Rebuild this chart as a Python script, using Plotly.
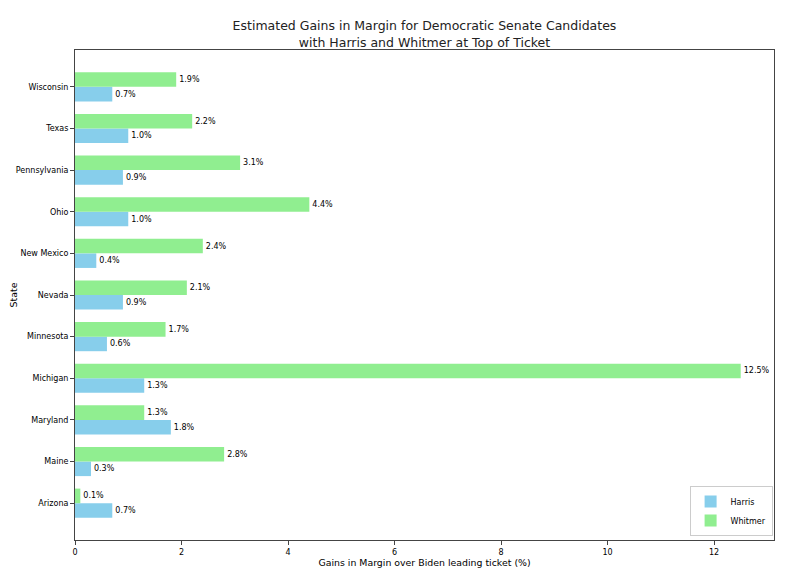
import plotly.graph_objects as go

states = ["Arizona", "Maine", "Maryland", "Michigan", "Minnesota", "Nevada",
          "New Mexico", "Ohio", "Pennsylvania", "Texas", "Wisconsin"]
harris = [0.7, 0.3, 1.8, 1.3, 0.6, 0.9, 0.4, 1.0, 0.9, 1.0, 0.7]
whitmer = [0.1, 2.8, 1.3, 12.5, 1.7, 2.1, 2.4, 4.4, 3.1, 2.2, 1.9]

FONT = "DejaVu Sans"

fig = go.Figure()
fig.add_trace(go.Bar(
    y=states, x=harris, orientation="h", name="Harris",
    marker=dict(color="#87CEEB", line=dict(width=0)),
    text=[f"{v:.1f}%" for v in harris], textposition="outside",
    textfont=dict(size=8, color="black", family=FONT), cliponaxis=False,
))
fig.add_trace(go.Bar(
    y=states, x=whitmer, orientation="h", name="Whitmer",
    marker=dict(color="#90EE90", line=dict(width=0)),
    text=[f"{v:.1f}%" for v in whitmer], textposition="outside",
    textfont=dict(size=8, color="black", family=FONT), cliponaxis=False,
))

fig.update_layout(
    width=799, height=587,
    barmode="group", bargap=0.3, bargroupgap=0,
    plot_bgcolor="white", paper_bgcolor="white",
    font=dict(family=FONT, color="black", size=9),
    margin=dict(l=67, r=33, t=42, b=55, autoexpand=False),
    title=dict(
        text="Estimated Gains in Margin for Democratic Senate Candidates<br>with Harris and Whitmer at Top of Ticket",
        xref="paper", x=0.5, xanchor="center", y=0.962, yanchor="middle",
        font=dict(size=12.5, family=FONT, color="#222222"),
    ),
    xaxis=dict(
        range=[0, 13.125], tickmode="linear", tick0=0, dtick=2,
        showgrid=False, zeroline=False, showline=True, mirror=True,
        linecolor="#444444", linewidth=1, ticks="outside", ticklen=4,
        tickcolor="#444444", tickfont=dict(size=8), automargin=False,
        title=dict(text="Gains in Margin over Biden leading ticket (%)",
                   font=dict(size=9.4), standoff=2),
    ),
    yaxis=dict(
        range=[-0.885, 10.885], showgrid=False, zeroline=False,
        showline=True, mirror=True, linecolor="#444444", linewidth=1,
        ticks="outside", ticklen=4, tickcolor="#444444",
        tickfont=dict(size=8), automargin=False,
        title=dict(text="State", font=dict(size=9.4), standoff=0),
    ),
    legend=dict(
        x=0.998, y=0.008, xanchor="right", yanchor="bottom",
        bordercolor="#cccccc", borderwidth=1, bgcolor="white",
        font=dict(size=8), traceorder="normal", tracegroupgap=0,
        itemwidth=30,
    ),
)

fig.write_html("out.html")
